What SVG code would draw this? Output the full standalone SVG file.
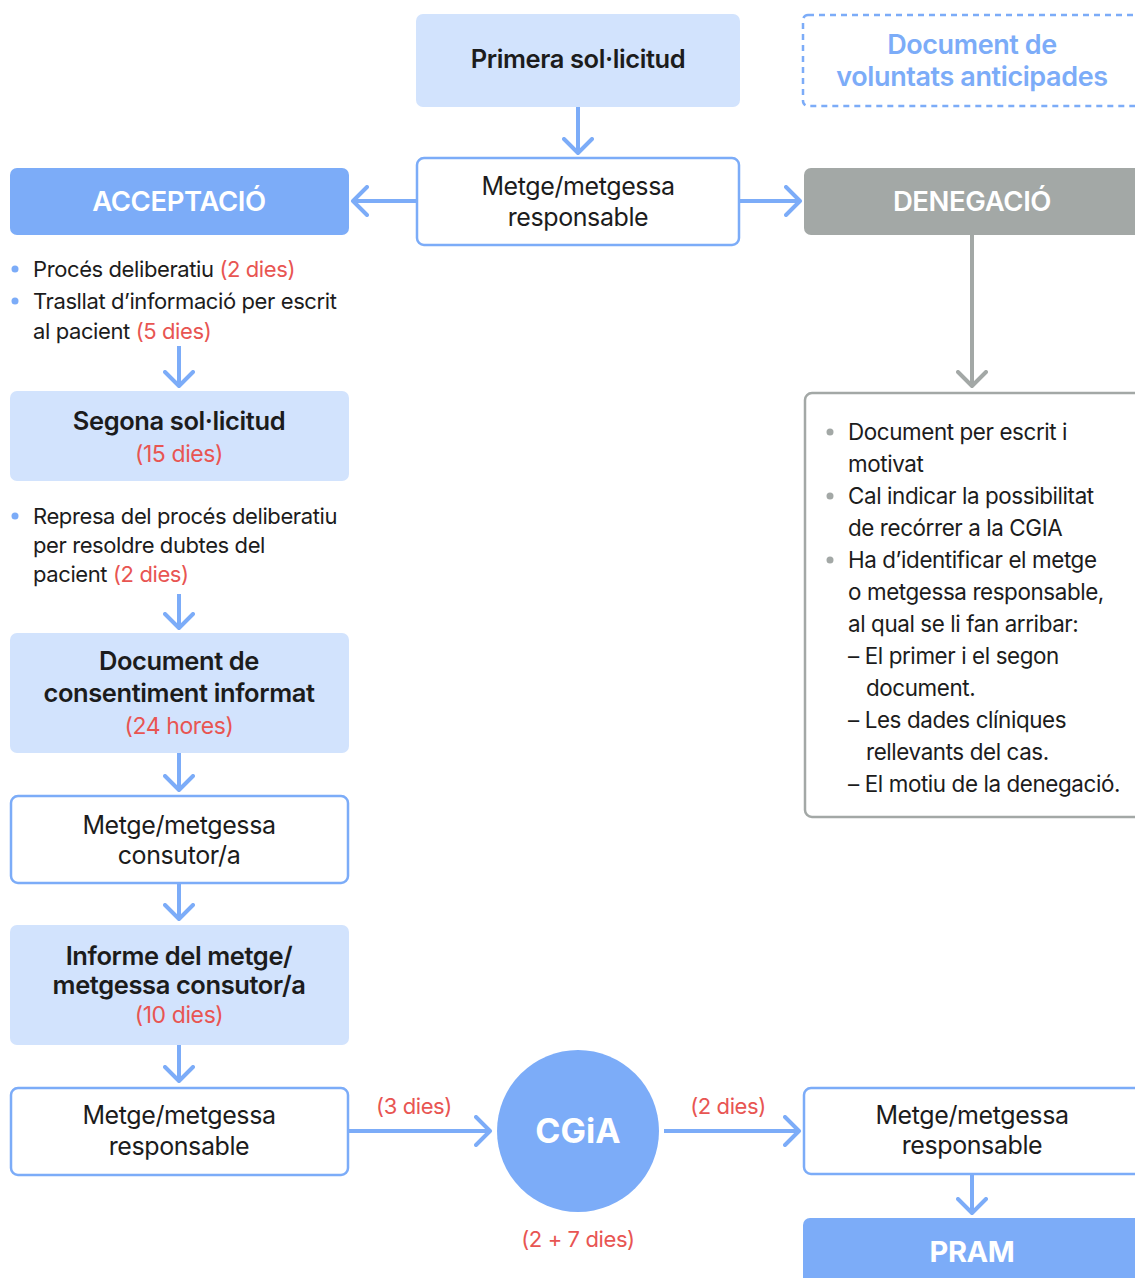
<svg xmlns="http://www.w3.org/2000/svg" width="1135" height="1278" viewBox="0 0 1135 1278">
<defs>
<style>
text{font-family:Inter,"Liberation Sans",sans-serif;}
.t{font-size:22px;fill:#1c1c1c;letter-spacing:-0.4px;}
.n{font-size:25px;fill:#1c1c1c;letter-spacing:-0.4px;}
.b{font-size:25.5px;font-weight:600;fill:#1c1c1c;letter-spacing:-0.4px;}
.rb{font-size:23px;fill:#e85552;letter-spacing:-0.4px;}
.r{fill:#e85552;}
.w{font-size:27.5px;font-weight:600;fill:#ffffff;letter-spacing:-0.4px;}
.lt{fill:#d2e3fd;}
.wb{fill:#ffffff;stroke:#7cacf8;stroke-width:2.5;}
.blue{fill:#7cacf8;}
.c{stroke:#7cacf8;stroke-width:4;fill:none;}
.g{stroke:#a3a8a6;stroke-width:4;fill:none;}
.mid{text-anchor:middle;}
</style>
<marker id="ab" markerUnits="userSpaceOnUse" markerWidth="32" markerHeight="32" refX="16" refY="16" viewBox="0 0 32 32" orient="auto">
<path d="M2,2 L16,16 L2,30" fill="none" stroke="#7cacf8" stroke-width="4" stroke-linecap="round" stroke-linejoin="round"/>
</marker>
<marker id="ag" markerUnits="userSpaceOnUse" markerWidth="32" markerHeight="32" refX="16" refY="16" viewBox="0 0 32 32" orient="auto">
<path d="M2,2 L16,16 L2,30" fill="none" stroke="#a3a8a6" stroke-width="4" stroke-linecap="round" stroke-linejoin="round"/>
</marker>
</defs>
<rect width="1135" height="1278" fill="#ffffff"/>

<g id="connectors">
<line class="c" x1="578" y1="107" x2="578" y2="153" marker-end="url(#ab)"/>
<line class="c" x1="416" y1="201" x2="353" y2="201" marker-end="url(#ab)"/>
<line class="c" x1="740" y1="201" x2="800" y2="201" marker-end="url(#ab)"/>
<line class="g" x1="972" y1="235" x2="972" y2="386" marker-end="url(#ag)"/>
<line class="c" x1="179" y1="346" x2="179" y2="386" marker-end="url(#ab)"/>
<line class="c" x1="179" y1="594" x2="179" y2="628" marker-end="url(#ab)"/>
<line class="c" x1="179" y1="753" x2="179" y2="790" marker-end="url(#ab)"/>
<line class="c" x1="179" y1="884" x2="179" y2="919" marker-end="url(#ab)"/>
<line class="c" x1="179" y1="1045" x2="179" y2="1081" marker-end="url(#ab)"/>
<line class="c" x1="349" y1="1131" x2="490" y2="1131" marker-end="url(#ab)"/>
<line class="c" x1="664" y1="1131" x2="799" y2="1131" marker-end="url(#ab)"/>
<line class="c" x1="972" y1="1174" x2="972" y2="1213" marker-end="url(#ab)"/>
<text class="t r mid" x="414" y="1114">(3 dies)</text>
<text class="t r mid" x="728" y="1114">(2 dies)</text>
</g>

<g id="primera">
<rect class="lt" x="416" y="14" width="324" height="93" rx="7"/>
<text class="b mid" x="578" y="68">Primera sol·licitud</text>
</g>

<g id="dva">
<rect x="803" y="15" width="340" height="91" rx="5" fill="none" stroke="#7cacf8" stroke-width="2.5" stroke-dasharray="6,5"/>
<text class="b mid" x="972" y="54" style="fill:#7cacf8;font-size:27px">Document de</text>
<text class="b mid" x="972" y="86" style="fill:#7cacf8;font-size:27px">voluntats anticipades</text>
</g>

<g id="metge-top">
<rect class="wb" x="417" y="158" width="322" height="87" rx="7"/>
<text class="n mid" x="578" y="195">Metge/metgessa</text>
<text class="n mid" x="578" y="226">responsable</text>
</g>

<g id="acceptacio">
<rect class="blue" x="10" y="168" width="339" height="67" rx="7"/>
<text class="w mid" x="179" y="211">ACCEPTACIÓ</text>
</g>

<g id="denegacio">
<rect x="804" y="168" width="340" height="67" rx="7" fill="#a3a8a6"/>
<text class="w mid" x="972" y="211">DENEGACIÓ</text>
</g>

<g id="acc-notes">
<circle cx="15" cy="269" r="3.5" class="blue"/>
<circle cx="15" cy="301" r="3.5" class="blue"/>
<text class="t" x="33" y="277">Procés deliberatiu <tspan class="r">(2 dies)</tspan></text>
<text class="t" x="33" y="309">Trasllat d’informació per escrit</text>
<text class="t" x="33" y="339">al pacient <tspan class="r">(5 dies)</tspan></text>
</g>

<g id="segona">
<rect class="lt" x="10" y="391" width="339" height="90" rx="7"/>
<text class="b mid" x="179" y="430">Segona sol·licitud</text>
<text class="rb mid" x="179" y="462">(15 dies)</text>
</g>

<g id="represa">
<circle cx="15" cy="516" r="3.5" class="blue"/>
<text class="t" x="33" y="524">Represa del procés deliberatiu</text>
<text class="t" x="33" y="553">per resoldre dubtes del</text>
<text class="t" x="33" y="582">pacient <tspan class="r">(2 dies)</tspan></text>
</g>

<g id="consentiment">
<rect class="lt" x="10" y="633" width="339" height="120" rx="7"/>
<text class="b mid" x="179" y="670">Document de</text>
<text class="b mid" x="179" y="702">consentiment informat</text>
<text class="rb mid" x="179" y="734">(24 hores)</text>
</g>

<g id="consultor">
<rect class="wb" x="11" y="796" width="337" height="87" rx="7"/>
<text class="n mid" x="179" y="834">Metge/metgessa</text>
<text class="n mid" x="179" y="864">consutor/a</text>
</g>

<g id="informe">
<rect class="lt" x="10" y="925" width="339" height="120" rx="7"/>
<text class="b mid" x="179" y="965">Informe del metge/</text>
<text class="b mid" x="179" y="994">metgessa consutor/a</text>
<text class="rb mid" x="179" y="1023">(10 dies)</text>
</g>

<g id="metge-bottom">
<rect class="wb" x="11" y="1088" width="337" height="87" rx="7"/>
<text class="n mid" x="179" y="1124">Metge/metgessa</text>
<text class="n mid" x="179" y="1155">responsable</text>
</g>

<g id="cgia">
<circle cx="578" cy="1131" r="81" class="blue"/>
<text class="mid" x="578" y="1143" style="font-size:34px;font-weight:700;fill:#ffffff">CGiA</text>
<text class="t r mid" x="578" y="1247">(2 + 7 dies)</text>
</g>

<g id="metge-right">
<rect class="wb" x="804" y="1088" width="340" height="86" rx="7"/>
<text class="n mid" x="972" y="1124">Metge/metgessa</text>
<text class="n mid" x="972" y="1154">responsable</text>
</g>

<g id="pram">
<rect class="blue" x="803" y="1218" width="341" height="70" rx="7"/>
<text class="w mid" x="972" y="1262" style="font-size:29px;font-weight:700">PRAM</text>
</g>

<g id="denegacio-notes">
<rect x="805" y="393" width="340" height="424" rx="7" fill="#ffffff" stroke="#a3a8a6" stroke-width="2.5"/>
<circle cx="830" cy="432" r="3.5" fill="#a3a8a6"/>
<circle cx="830" cy="496" r="3.5" fill="#a3a8a6"/>
<circle cx="830" cy="560" r="3.5" fill="#a3a8a6"/>
<g style="font-size:22.4px">
<text class="t" x="848" y="440" style="font-size:22.4px">Document per escrit i</text>
<text class="t" x="848" y="472" style="font-size:22.4px">motivat</text>
<text class="t" x="848" y="504" style="font-size:22.4px">Cal indicar la possibilitat</text>
<text class="t" x="848" y="536" style="font-size:22.4px">de recórrer a la CGIA</text>
<text class="t" x="848" y="568" style="font-size:22.4px">Ha d’identificar el metge</text>
<text class="t" x="848" y="600" style="font-size:22.4px">o metgessa responsable,</text>
<text class="t" x="848" y="632" style="font-size:22.4px">al qual se li fan arribar:</text>
<text class="t" x="848" y="664" style="font-size:22.4px">– El primer i el segon</text>
<text class="t" x="866" y="696" style="font-size:22.4px">document.</text>
<text class="t" x="848" y="728" style="font-size:22.4px">– Les dades clíniques</text>
<text class="t" x="866" y="760" style="font-size:22.4px">rellevants del cas.</text>
<text class="t" x="848" y="792" style="font-size:22.4px">– El motiu de la denegació.</text>
</g>
</g>
</svg>
